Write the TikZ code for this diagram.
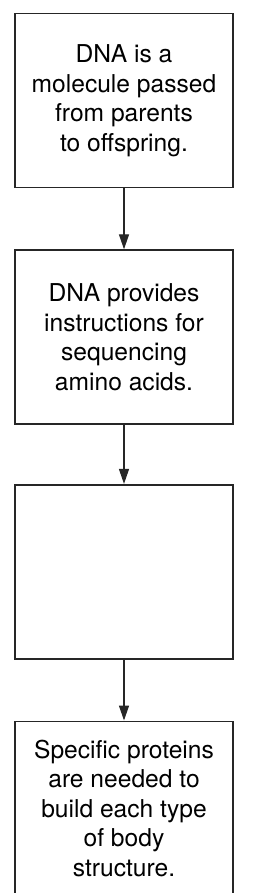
\documentclass[tikz,border=0pt]{standalone}
\usepackage{fontspec}
\setmainfont{TeX Gyre Heros}
\usetikzlibrary{positioning,arrows.meta}
\tikzset{
    flowbox/.style={draw=black!85,line width=1.6pt,minimum width=218pt,minimum height=174pt,
        align=center,inner sep=0pt,font=\fontsize{24.6}{29.5}\selectfont},
    flowarrow/.style={line width=1.4pt,draw=black!85,-{Triangle[length=15pt,width=10pt]}}
}
\begin{document}
\begin{tikzpicture}[x=1pt,y=1pt,node distance=61pt]
    \useasboundingbox (0,0) rectangle (258,-893);
    \node[flowbox] (inherit) at (124,-100.5) {DNA is a\\molecule passed\\from parents\\to offspring.};
    \node[flowbox,below=of inherit] (instruct) {DNA provides\\instructions for\\sequencing\\amino acids.};
    \node[flowbox,below=59pt of instruct] (blank) {};
    \node[flowbox,below=of blank] (proteins) {Specific proteins\\are needed to\\build each type\\of body\\structure.};

    \draw[flowarrow] (inherit) -- (instruct);
    \draw[flowarrow] (instruct) -- (blank);
    \draw[flowarrow] (blank) -- (proteins);
\end{tikzpicture}
\end{document}
